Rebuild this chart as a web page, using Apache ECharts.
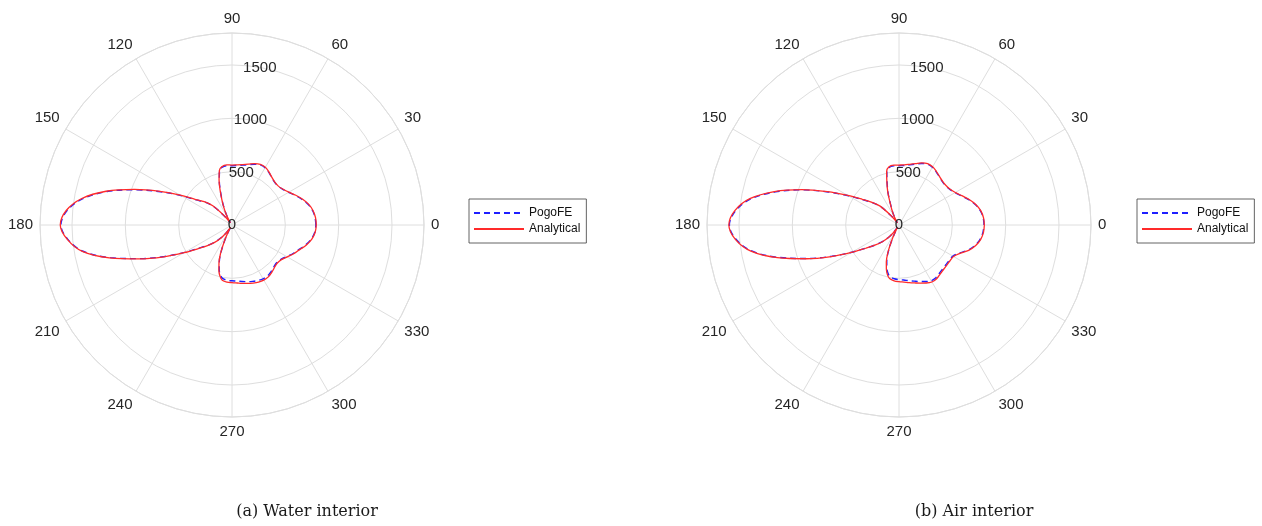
<!DOCTYPE html>
<html>
<head>
<meta charset="utf-8">
<script src="https://cdn.jsdelivr.net/npm/echarts@6/dist/echarts.min.js"></script>
<style>
  html, body { margin: 0; padding: 0; background: #ffffff; }
  #chart { width: 1262px; height: 526px; }
</style>
</head>
<body>
<div id="chart"></div>
<script>
// Polar angles (degrees) at which the directivity is sampled
const angles = [
  0, 5, 10, 15, 20, 25, 30, 35, 40, 45, 50, 55, 60, 65, 70, 75, 80, 85, 90, 95, 100,
  103, 106, 109, 112, 115, 118, 121, 124, 127, 130,
  135, 140, 145, 150, 155, 160, 165, 170, 175, 180, 185, 190, 195, 200, 205, 210, 215, 220, 225, 230,
  233, 236, 239, 242, 245, 248, 251, 254, 257, 260,
  265, 270, 275, 280, 285, 290, 295, 300, 305, 310, 315, 320, 325, 330, 335, 340, 345, 350, 355, 360
];

// (a) Water interior
const waterAnalytical = [
  790, 786, 772, 745, 705, 660, 615, 585, 567, 568, 582, 605, 625, 628, 612, 590, 575, 566, 562, 566, 555,
  525, 440, 340, 250, 180, 120, 75, 35, 25, 110,
  255, 340, 415, 560, 745, 975, 1222, 1430, 1560, 1610, 1550, 1425, 1190, 930, 705, 520, 385, 300, 230, 155,
  100, 45, 25, 85, 175, 285, 375, 445, 495, 525,
  537, 540, 546, 556, 567, 579, 590, 596, 594, 580, 563, 555, 566, 598, 638, 675, 722, 760, 783, 790
];
const waterPogo = [
  786, 782, 768, 740, 700, 655, 612, 582, 565, 566, 580, 602, 620, 622, 606, 585, 570, 560, 556, 558, 548,
  520, 432, 332, 245, 175, 115, 72, 33, 25, 105,
  250, 335, 410, 552, 738, 966, 1212, 1420, 1552, 1604, 1545, 1418, 1182, 922, 698, 514, 380, 296, 226, 150,
  96, 42, 25, 80, 168, 276, 366, 435, 482, 508,
  520, 523, 528, 538, 550, 562, 574, 582, 582, 570, 555, 548, 560, 592, 632, 670, 716, 755, 779, 786
];

// (b) Air interior
const airAnalytical = [
  800, 795, 778, 745, 700, 650, 610, 585, 575, 578, 592, 612, 630, 635, 620, 596, 578, 566, 562, 563, 552,
  515, 410, 320, 220, 160, 110, 70, 35, 25, 105,
  250, 330, 420, 555, 740, 970, 1210, 1420, 1545, 1595, 1540, 1410, 1180, 925, 700, 515, 380, 295, 225, 150,
  95, 45, 25, 80, 170, 275, 365, 430, 480, 510,
  525, 531, 537, 548, 562, 580, 600, 617, 615, 600, 590, 585, 584, 590, 630, 695, 745, 778, 795, 800
];
const airPogo = [
  797, 792, 774, 740, 695, 646, 606, 582, 572, 575, 589, 608, 625, 630, 614, 590, 572, 560, 556, 556, 545,
  508, 402, 312, 214, 155, 106, 67, 33, 25, 100,
  245, 325, 414, 548, 732, 962, 1200, 1410, 1537, 1590, 1534, 1402, 1172, 918, 694, 510, 376, 291, 221, 146,
  92, 42, 25, 76, 163, 266, 352, 415, 462, 490,
  506, 512, 518, 530, 545, 564, 585, 603, 603, 590, 580, 576, 577, 584, 624, 688, 738, 772, 790, 797
];

// Radius ticks and angle ticks
const radiusMax = 1800;
const radiusStep = 500;
const angleStep = 30;

const panels = [
  { caption: '(a) Water interior', cx: 232, cy: 225, legendLeft: 469, pogo: waterPogo, analytical: waterAnalytical },
  { caption: '(b) Air interior',   cx: 899, cy: 225, legendLeft: 1137, pogo: airPogo, analytical: airAnalytical }
];

const R = 192;
const gridColor = '#dedede';
const textColor = '#262626';
const sansFont = '"Liberation Sans", Arial, Helvetica, sans-serif';

function pairs(values) {
  return values.map((v, i) => [v, angles[i]]);
}

const polar = [], angleAxis = [], radiusAxis = [], series = [], legend = [], graphic = [];

panels.forEach((p, k) => {
  const gridIdx = 2 * k;
  const labelIdx = 2 * k + 1;

  // grid polar: circles, spokes and angle labels
  polar.push({ center: [p.cx, p.cy], radius: R });
  angleAxis.push({
    polarIndex: gridIdx, type: 'value', min: 0, max: 360, interval: angleStep,
    startAngle: 0, clockwise: false,
    axisLine: { show: true, lineStyle: { color: gridColor, width: 1 } },
    axisTick: { show: false },
    splitLine: { show: true, lineStyle: { color: gridColor, width: 1 } },
    axisLabel: {
      show: true, margin: 7, color: textColor, fontSize: 15, fontFamily: sansFont,
      formatter: v => (v === 360 ? '' : String(v))
    }
  });
  radiusAxis.push({
    polarIndex: gridIdx, type: 'value', min: 0, max: radiusMax, interval: radiusStep,
    axisLine: { show: false }, axisTick: { show: false }, axisLabel: { show: false },
    splitLine: { show: true, lineStyle: { color: gridColor, width: 1 } }
  });

  // label polar: radius tick labels along the 80 degree ray
  polar.push({ center: [p.cx, p.cy], radius: R });
  angleAxis.push({
    polarIndex: labelIdx, type: 'value', min: 0, max: 360, startAngle: 80, clockwise: false,
    show: false
  });
  radiusAxis.push({
    polarIndex: labelIdx, type: 'value', min: 0, max: radiusMax, interval: radiusStep,
    axisLine: { show: false }, axisTick: { show: false }, splitLine: { show: false },
    axisLabel: {
      show: true, margin: 0, showMaxLabel: false, color: textColor, fontSize: 15,
      fontFamily: sansFont, align: 'center', verticalAlign: 'middle',
      formatter: v => String(v)
    },
    z: 5
  });

  series.push({
    name: 'PogoFE', type: 'line', coordinateSystem: 'polar', polarIndex: gridIdx,
    data: pairs(p.pogo), symbol: 'none', smooth: 0.35, z: 3,
    lineStyle: { color: '#1f1fff', width: 1.4, type: [6, 4] },
    itemStyle: { color: '#1f1fff' }
  });
  series.push({
    name: 'Analytical', type: 'line', coordinateSystem: 'polar', polarIndex: gridIdx,
    data: pairs(p.analytical), symbol: 'none', smooth: 0.35, z: 4,
    lineStyle: { color: '#ff2a2a', width: 1.3 },
    itemStyle: { color: '#ff2a2a' }
  });

  legend.push({
    data: ['PogoFE', 'Analytical'], orient: 'vertical',
    left: p.legendLeft, top: 199,
    itemWidth: 50, itemHeight: 12, itemGap: 4,
    padding: [8, 6, 8, 4],
    borderColor: '#3c3c3c', borderWidth: 0.8, backgroundColor: '#ffffff',
    selectedMode: false,
    itemStyle: { opacity: 0 },
    textStyle: { fontSize: 12, fontFamily: sansFont, color: '#111111' }
  });

  graphic.push({
    type: 'text', x: p.cx + 75, y: 512,
    style: {
      text: p.caption, fill: '#1a1a1a', fontSize: 16,
      fontFamily: '"DejaVu Serif", "Liberation Serif", serif',
      align: 'center', verticalAlign: 'middle'
    }
  });
});

const chart = echarts.init(document.getElementById('chart'), null, { renderer: 'canvas' });
chart.setOption({
  animation: false,
  backgroundColor: '#ffffff',
  polar, angleAxis, radiusAxis, series, legend, graphic
});
</script>
</body>
</html>
